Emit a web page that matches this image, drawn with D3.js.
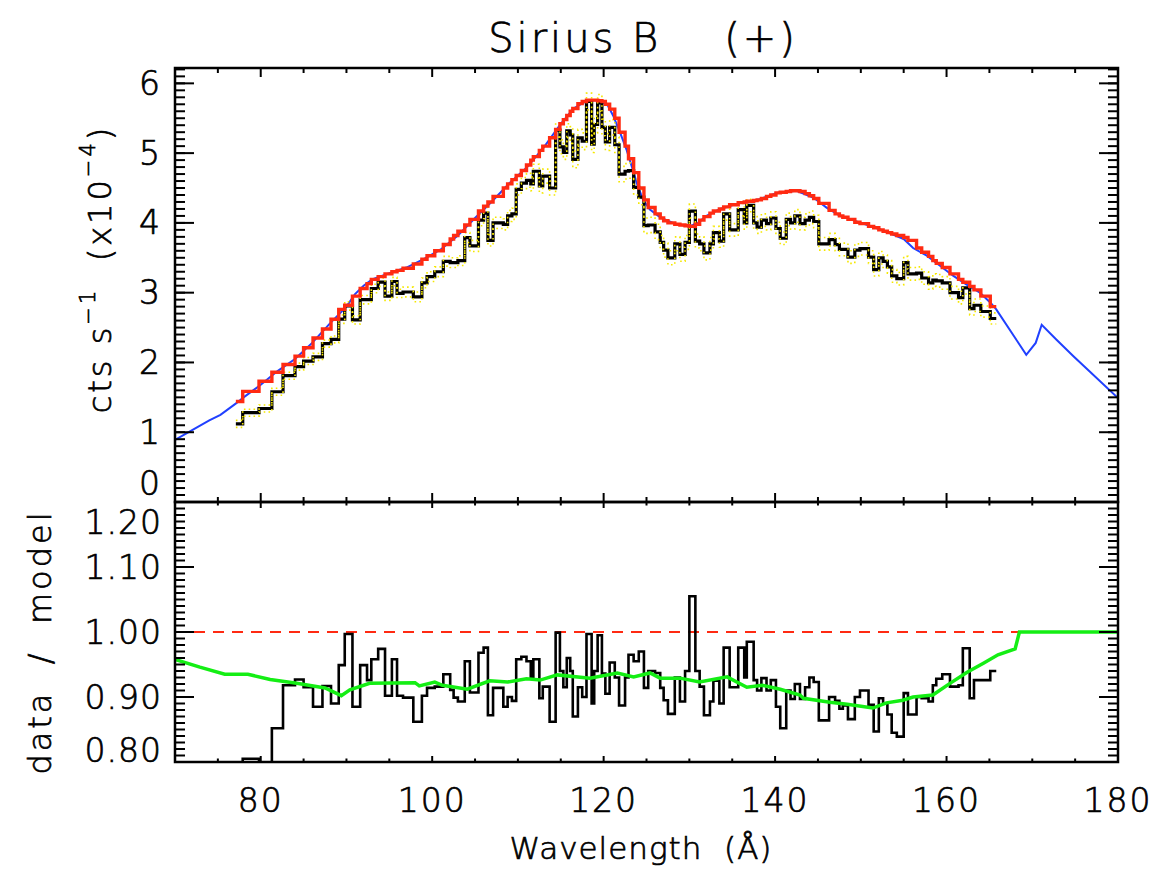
<!DOCTYPE html>
<html>
<head>
<meta charset="utf-8">
<script src="https://cdn.jsdelivr.net/npm/d3@7"></script>
<style>
  body { margin: 0; background: #fff; }
  svg text { font-family: "DejaVu Sans", sans-serif; font-weight: 200; fill: #000; stroke: #000; stroke-width: 0.7px; }
</style>
</head>
<body>
<div id="chart"></div>
<script>
// bin edges of the spectrum (Angstrom)
var binEdges = [
  77.1, 77.9, 79.8, 81.3, 82.6, 84.0, 85.0, 86.1, 87.2, 88.2,
  89.1, 89.8, 90.7, 91.6, 92.4, 92.9, 93.7, 94.5, 95.3, 95.9,
  96.6, 97.8, 98.8, 99.4, 100.3, 101.3, 102.1, 102.5, 103.0, 103.8,
  104.4, 105.4, 106.0, 106.5, 107.1, 108.3, 108.8, 109.3, 109.8, 110.4,
  111.0, 111.5, 111.8, 112.5, 112.9, 113.7, 114.4, 114.9, 115.3, 115.7,
  116.1, 116.4, 117.0, 117.5, 118.0, 118.6, 118.9, 119.3, 119.8, 120.2,
  120.7, 121.3, 121.8, 122.5, 122.9, 123.5, 124.1, 124.7, 125.2, 126.0,
  126.6, 127.0, 127.5, 128.3, 128.9, 129.5, 130.0, 130.7, 131.2, 131.7,
  132.4, 132.8, 133.5, 134.0, 134.7, 135.7, 136.4, 136.7, 137.5, 137.9,
  138.4, 139.0, 139.5, 140.1, 140.6, 141.3, 141.8, 142.3, 142.9, 143.5,
  144.0, 144.5, 145.1, 146.3, 147.0, 147.5, 147.9, 148.5, 149.3, 149.9,
  150.9, 151.5, 152.1, 152.6, 153.1, 153.6, 154.2, 155.0, 155.5, 156.5,
  157.1, 157.9, 158.4, 158.8, 159.5, 160.4, 161.4, 161.9, 162.7, 163.2,
  164.0, 165.1, 165.8
];

// observed counts per bin (x1e-4 cts/s)
var dataVals = [
  1.12, 1.28, 1.34, 1.58, 1.81, 1.94, 2.02, 2.08, 2.27, 2.33,
  2.62, 2.81, 2.61, 2.90, 2.90, 3.06, 3.15, 2.95, 3.16, 2.99,
  3.01, 2.94, 3.14, 3.23, 3.30, 3.45, 3.43, 3.43, 3.46, 3.79,
  3.67, 4.04, 4.14, 3.75, 4.00, 3.98, 4.10, 4.13, 4.48, 4.57,
  4.61, 4.56, 4.74, 4.53, 4.67, 4.50, 5.33, 5.09, 5.01, 5.32,
  5.26, 4.91, 5.22, 5.17, 5.74, 5.13, 5.41, 5.72, 5.37, 5.16,
  5.37, 5.12, 4.70, 4.74, 4.75, 4.51, 4.37, 3.96, 3.97, 3.87,
  3.72, 3.61, 3.50, 3.70, 3.55, 3.72, 4.17, 3.74, 3.70, 3.57,
  3.70, 3.86, 3.74, 4.13, 3.90, 4.19, 4.00, 4.25, 4.00, 3.94,
  4.04, 3.99, 4.07, 3.92, 3.78, 4.05, 4.00, 4.10, 3.99, 4.04,
  4.08, 4.02, 3.70, 3.76, 3.69, 3.62, 3.62, 3.51, 3.61, 3.63,
  3.51, 3.33, 3.50, 3.45, 3.37, 3.24, 3.20, 3.43, 3.27, 3.28,
  3.21, 3.14, 3.18, 3.17, 3.14, 3.00, 2.93, 3.07, 2.77, 2.82,
  2.73, 2.63
];

// 1-sigma errors on the counts
var dataErr = [
  0.05, 0.05, 0.05, 0.05, 0.05, 0.05, 0.05, 0.05, 0.05, 0.05,
  0.06, 0.06, 0.06, 0.06, 0.06, 0.06, 0.06, 0.06, 0.06, 0.06,
  0.07, 0.07, 0.07, 0.07, 0.07, 0.07, 0.07, 0.07, 0.07, 0.07,
  0.08, 0.08, 0.08, 0.08, 0.08, 0.08, 0.08, 0.08, 0.08, 0.08,
  0.10, 0.10, 0.10, 0.10, 0.10, 0.10, 0.10, 0.10, 0.10, 0.10,
  0.12, 0.12, 0.12, 0.12, 0.12, 0.12, 0.12, 0.12, 0.12, 0.12,
  0.11, 0.11, 0.11, 0.11, 0.11, 0.11, 0.11, 0.11, 0.11, 0.11,
  0.10, 0.10, 0.10, 0.10, 0.10, 0.10, 0.10, 0.10, 0.10, 0.10,
  0.09, 0.09, 0.09, 0.09, 0.09, 0.09, 0.09, 0.09, 0.09, 0.09,
  0.09, 0.09, 0.09, 0.09, 0.09, 0.09, 0.09, 0.09, 0.09, 0.09,
  0.09, 0.09, 0.09, 0.09, 0.09, 0.09, 0.09, 0.09, 0.09, 0.09,
  0.09, 0.09, 0.09, 0.09, 0.09, 0.09, 0.09, 0.09, 0.09, 0.09,
  0.09, 0.09, 0.09, 0.09, 0.09, 0.09, 0.09, 0.09, 0.09, 0.09,
  0.08, 0.08
];

// binned model (red histogram)
var modelVals = [
  1.44, 1.585, 1.73, 1.86, 1.97, 2.09, 2.21, 2.35, 2.48, 2.62,
  2.76, 2.82, 2.95, 3.06, 3.13, 3.19, 3.23, 3.27, 3.30, 3.32,
  3.35, 3.41, 3.48, 3.53, 3.60, 3.69, 3.77, 3.82, 3.88, 3.97,
  4.05, 4.17, 4.24, 4.30, 4.38, 4.50, 4.56, 4.62, 4.68, 4.75,
  4.83, 4.90, 4.95, 5.04, 5.10, 5.22, 5.34, 5.42, 5.48, 5.54,
  5.60, 5.64, 5.71, 5.74, 5.76, 5.76, 5.76, 5.75, 5.74, 5.70,
  5.63, 5.50, 5.30, 5.10, 4.92, 4.72, 4.50, 4.33, 4.22, 4.13,
  4.07, 4.03, 4.00, 3.98, 3.97, 3.96, 3.95, 3.98, 4.04, 4.09,
  4.14, 4.17, 4.20, 4.23, 4.26, 4.29, 4.30, 4.31, 4.32, 4.33,
  4.35, 4.38, 4.40, 4.43, 4.44, 4.45, 4.46, 4.46, 4.45, 4.42,
  4.39, 4.35, 4.28, 4.18, 4.13, 4.10, 4.08, 4.05, 4.01, 3.99,
  3.95, 3.93, 3.90, 3.88, 3.86, 3.84, 3.82, 3.79, 3.75, 3.64,
  3.58, 3.52, 3.46, 3.42, 3.36, 3.27, 3.19, 3.15, 3.09, 3.04,
  2.95, 2.80
];

// data / model ratio per bin
var ratioVals = [
  0.760, 0.805, 0.770, 0.852, 0.918, 0.927, 0.915, 0.885, 0.917, 0.890,
  0.949, 0.997, 0.885, 0.949, 0.926, 0.958, 0.974, 0.902, 0.958, 0.902,
  0.899, 0.862, 0.902, 0.914, 0.916, 0.935, 0.911, 0.899, 0.893, 0.955,
  0.907, 0.968, 0.976, 0.872, 0.914, 0.885, 0.900, 0.894, 0.958, 0.962,
  0.955, 0.930, 0.958, 0.898, 0.916, 0.862, 0.999, 0.940, 0.915, 0.960,
  0.940, 0.870, 0.915, 0.900, 0.997, 0.890, 0.940, 0.995, 0.936, 0.905,
  0.953, 0.930, 0.887, 0.930, 0.965, 0.955, 0.970, 0.914, 0.940, 0.937,
  0.914, 0.895, 0.874, 0.930, 0.893, 0.940, 1.055, 0.940, 0.916, 0.872,
  0.893, 0.925, 0.890, 0.976, 0.915, 0.976, 0.930, 0.985, 0.926, 0.910,
  0.929, 0.910, 0.926, 0.885, 0.852, 0.910, 0.897, 0.920, 0.897, 0.915,
  0.930, 0.923, 0.864, 0.900, 0.894, 0.882, 0.887, 0.866, 0.900, 0.910,
  0.888, 0.847, 0.898, 0.890, 0.873, 0.845, 0.839, 0.906, 0.873, 0.900,
  0.898, 0.893, 0.918, 0.928, 0.935, 0.916, 0.918, 0.975, 0.898, 0.926,
  0.926, 0.940
];

// unbinned model over the full range (blue)
var modelWave = [70, 72, 74, 75.3, 77.2, 78, 80, 82, 84, 86, 88, 90, 91, 92, 93,
  95, 97, 99, 101, 103, 105, 107, 109, 111, 113, 115, 116.5, 118, 119.5, 120.5,
  121.1, 121.9, 122.7, 123.3, 123.9, 124.6, 125.4, 126.6, 128.5, 130, 131, 132,
  133.6, 136, 138.2, 140.2, 142.5, 144.5, 146, 147.6, 150, 152.2, 155, 156.1,
  157.7, 159.2, 160.8, 162.3, 163.9, 165.1, 165.8, 169.3, 170.4, 171.1, 172.8,
  174.8, 176.7, 180];
var modelFlux = [0.89, 1.03, 1.17, 1.25, 1.42, 1.50, 1.68, 1.88, 2.05, 2.28, 2.55, 2.80, 2.98, 3.10, 3.19,
  3.28, 3.36, 3.48, 3.62, 3.82, 4.07, 4.31, 4.57, 4.79, 5.08, 5.42, 5.64, 5.75, 5.76, 5.68,
  5.54, 5.30, 5.04, 4.80, 4.56, 4.33, 4.19, 4.08, 3.98, 3.95, 4.00, 4.10,
  4.20, 4.29, 4.34, 4.43, 4.46, 4.36, 4.22, 4.10, 4.00, 3.91, 3.77, 3.64,
  3.53, 3.39, 3.24, 3.12, 3.00, 2.86, 2.76, 2.11, 2.28, 2.54, 2.33,
  2.09, 1.87, 1.49];

// correction curve in the ratio panel (green)
var corrWave = [70, 72.9, 75.8, 78.5, 81.1, 84.2, 87.5, 89.4, 90.4, 92.7, 98.0, 98.5,
  100.3, 101.2, 104.1, 106.7, 108.8, 111, 112.6, 114.6, 118.4, 121.6, 123.5, 125.4,
  126.6, 128.9, 131.2, 134.4, 136.7, 138.5, 140.6, 142.9, 143.3, 146.4, 148.4, 151.4,
  153, 154.9, 156.1, 158.4, 160.4, 162.4, 164.3, 166.0, 168.0, 168.5, 180];
var corrVals = [0.958, 0.946, 0.935, 0.935, 0.927, 0.921, 0.914, 0.902, 0.911, 0.921, 0.922, 0.917,
  0.923, 0.918, 0.912, 0.925, 0.923, 0.928, 0.926, 0.934, 0.929, 0.937, 0.931, 0.937,
  0.929, 0.929, 0.923, 0.931, 0.915, 0.918, 0.912, 0.903, 0.898, 0.892, 0.889, 0.883,
  0.891, 0.895, 0.900, 0.903, 0.921, 0.938, 0.952, 0.965, 0.974, 1.0, 1.0];

var xTicks = [80, 100, 120, 140, 160, 180];
var yTicksTop = [0, 1, 2, 3, 4, 5, 6];
var yTicksBot = [0.8, 0.9, 1.0, 1.1, 1.2];
var yLabelsBot = ["0.80", "0.90", "1.00", "1.10", "1.20"];

var W = 1168, H = 869;
var L = 175, R = 1118, T = 68, MID = 502, B = 762;

var svg = d3.select("#chart").append("svg")
    .attr("width", W).attr("height", H);

var x = d3.scaleLinear().domain([70, 180]).range([L, R]);
var yTop = d3.scaleLinear().domain([0, 6.22]).range([MID, T]);
var yBot = d3.scaleLinear().domain([0.8, 1.2]).range([B, MID]);

// clip regions for each panel
var defs = svg.append("defs");
defs.append("clipPath").attr("id", "clipTop").append("rect")
    .attr("x", L).attr("y", T).attr("width", R - L).attr("height", MID - T);
defs.append("clipPath").attr("id", "clipBot").append("rect")
    .attr("x", L).attr("y", MID).attr("width", R - L).attr("height", B - MID);

// histogram points: [edge, value] with the last value repeated at the final edge
function stepPoints(vals, shift) {
    var pts = vals.map(function(v, i) { return [binEdges[i], v + (shift ? shift[i] : 0)]; });
    var n = vals.length;
    pts.push([binEdges[n], vals[n - 1] + (shift ? shift[n - 1] : 0)]);
    return pts;
}

function neg(a) { return a.map(function(v) { return -v; }); }

var stepTop = d3.line().curve(d3.curveStepAfter)
    .x(function(d) { return x(d[0]); }).y(function(d) { return yTop(d[1]); });
var stepBot = d3.line().curve(d3.curveStepAfter)
    .x(function(d) { return x(d[0]); }).y(function(d) { return yBot(d[1]); });
var lineTop = d3.line()
    .x(function(d) { return x(d[0]); }).y(function(d) { return yTop(d[1]); });
var lineBot = d3.line()
    .x(function(d) { return x(d[0]); }).y(function(d) { return yBot(d[1]); });

// ---- upper panel ----
var gTop = svg.append("g").attr("clip-path", "url(#clipTop)");

gTop.append("path")
    .datum(modelWave.map(function(w, i) { return [w, modelFlux[i]]; }))
    .attr("d", lineTop)
    .attr("fill", "none").attr("stroke", "#2040ff").attr("stroke-width", 2);

gTop.append("path")
    .datum(stepPoints(dataVals))
    .attr("d", stepTop)
    .attr("fill", "none").attr("stroke", "#000").attr("stroke-width", 3.2);

[dataErr, neg(dataErr)].forEach(function(e) {
    gTop.append("path")
        .datum(stepPoints(dataVals, e))
        .attr("d", stepTop)
        .attr("fill", "none").attr("stroke", "#f5e800").attr("stroke-width", 1.6)
        .attr("stroke-dasharray", "1.6,3.2");
});

gTop.append("path")
    .datum(stepPoints(modelVals))
    .attr("d", stepTop)
    .attr("fill", "none").attr("stroke", "#ff2a12").attr("stroke-width", 3.4);

// ---- lower panel ----
var gBot = svg.append("g").attr("clip-path", "url(#clipBot)");

gBot.append("line")
    .attr("x1", L).attr("x2", R).attr("y1", yBot(1)).attr("y2", yBot(1))
    .attr("stroke", "#ff2a12").attr("stroke-width", 2)
    .attr("stroke-dasharray", "11,8");

gBot.append("path")
    .datum(stepPoints(ratioVals))
    .attr("d", stepBot)
    .attr("fill", "none").attr("stroke", "#000").attr("stroke-width", 2.6);

gBot.append("path")
    .datum(corrWave.map(function(w, i) { return [w, corrVals[i]]; }))
    .attr("d", lineBot)
    .attr("fill", "none").attr("stroke", "#14ee14").attr("stroke-width", 3.5);

// ---- frames and ticks ----
var axes = svg.append("g").attr("stroke", "#000");

function hTicks(vals, scale, len) {
    // y ticks on both the left and right frame, pointing inward
    vals.forEach(function(v) {
        var y = scale(v);
        axes.append("line").attr("x1", L).attr("x2", L + len).attr("y1", y).attr("y2", y).attr("stroke-width", 2);
        axes.append("line").attr("x1", R).attr("x2", R - len).attr("y1", y).attr("y2", y).attr("stroke-width", 2);
    });
}
function vTicks(vals, y0, len) {
    vals.forEach(function(v) {
        var xx = x(v);
        axes.append("line").attr("x1", xx).attr("x2", xx).attr("y1", y0).attr("y2", y0 + len).attr("stroke-width", 2);
    });
}

var xMinor = d3.range(70, 181, 5).filter(function(v) { return xTicks.indexOf(v) < 0; });
var yMinorTop = d3.range(0, 63).map(function(i) { return i / 10; });
var yMinorBot = d3.range(0, 41).map(function(i) { return 0.8 + i / 100; });

hTicks(yMinorTop, yTop, 10);
hTicks(yTicksTop, yTop, 19);
hTicks(yMinorBot, yBot, 10);
hTicks(yTicksBot, yBot, 19);

vTicks(xMinor, T, 5);  vTicks(xTicks, T, 9);
vTicks(xMinor, MID, -5); vTicks(xTicks, MID, -9);
vTicks(xMinor, MID, 3.5); vTicks(xTicks, MID, 6);
vTicks(xMinor, B, -3.5); vTicks(xTicks, B, -6);

svg.append("rect").attr("x", L).attr("y", T).attr("width", R - L).attr("height", MID - T)
    .attr("fill", "none").attr("stroke", "#000").attr("stroke-width", 2.5);
svg.append("rect").attr("x", L).attr("y", MID).attr("width", R - L).attr("height", B - MID)
    .attr("fill", "none").attr("stroke", "#000").attr("stroke-width", 2.5);

// ---- tick labels ----
var fs = 33;
yTicksTop.forEach(function(v) {
    svg.append("text")
        .attr("x", 161).attr("y", v === 0 ? yTop(v) - 19 : yTop(v))
        .attr("text-anchor", "end").attr("dominant-baseline", "central")
        .style("font-size", fs + "px").style("letter-spacing", "1px")
        .text(v);
});
yTicksBot.forEach(function(v, i) {
    var y = yBot(v);
    if (v === 1.2) y += 20;
    if (v === 0.8) y -= 12;
    svg.append("text")
        .attr("x", 162).attr("y", y)
        .attr("text-anchor", "end").attr("dominant-baseline", "central")
        .style("font-size", fs + "px").style("letter-spacing", "1px")
        .text(yLabelsBot[i]);
});
xTicks.forEach(function(v) {
    svg.append("text")
        .attr("x", x(v)).attr("y", 800)
        .attr("text-anchor", "middle").attr("dominant-baseline", "central")
        .style("font-size", fs + "px").style("letter-spacing", "2px")
        .text(v);
});

// ---- titles ----
svg.append("text")
    .attr("x", 643).attr("y", 38)
    .attr("text-anchor", "middle").attr("dominant-baseline", "central")
    .style("font-size", "40px").style("letter-spacing", "3px")
    .style("white-space", "pre")
    .text("Sirius B    (+)");

svg.append("text")
    .attr("x", 641).attr("y", 848)
    .attr("text-anchor", "middle").attr("dominant-baseline", "central")
    .style("font-size", "31px").style("letter-spacing", "1px")
    .style("white-space", "pre")
    .text("Wavelength  (\u00c5)");

var yl = svg.append("text")
    .attr("transform", "translate(100,269) rotate(-90)")
    .attr("text-anchor", "middle").attr("dominant-baseline", "central")
    .style("font-size", "32px").style("letter-spacing", "3px")
    .style("white-space", "pre");
yl.append("tspan").text("cts s");
yl.append("tspan").attr("dy", -12).style("font-size", "21px").text("\u22121");
yl.append("tspan").attr("dy", 12).text("  (x10");
yl.append("tspan").attr("dy", -12).style("font-size", "21px").text("\u22124");
yl.append("tspan").attr("dy", 12).text(")");

svg.append("text")
    .attr("transform", "translate(40,642) rotate(-90)")
    .attr("text-anchor", "middle").attr("dominant-baseline", "central")
    .style("font-size", "32px").style("letter-spacing", "3px")
    .style("white-space", "pre")
    .text("data  /  model");
</script>
</body>
</html>
